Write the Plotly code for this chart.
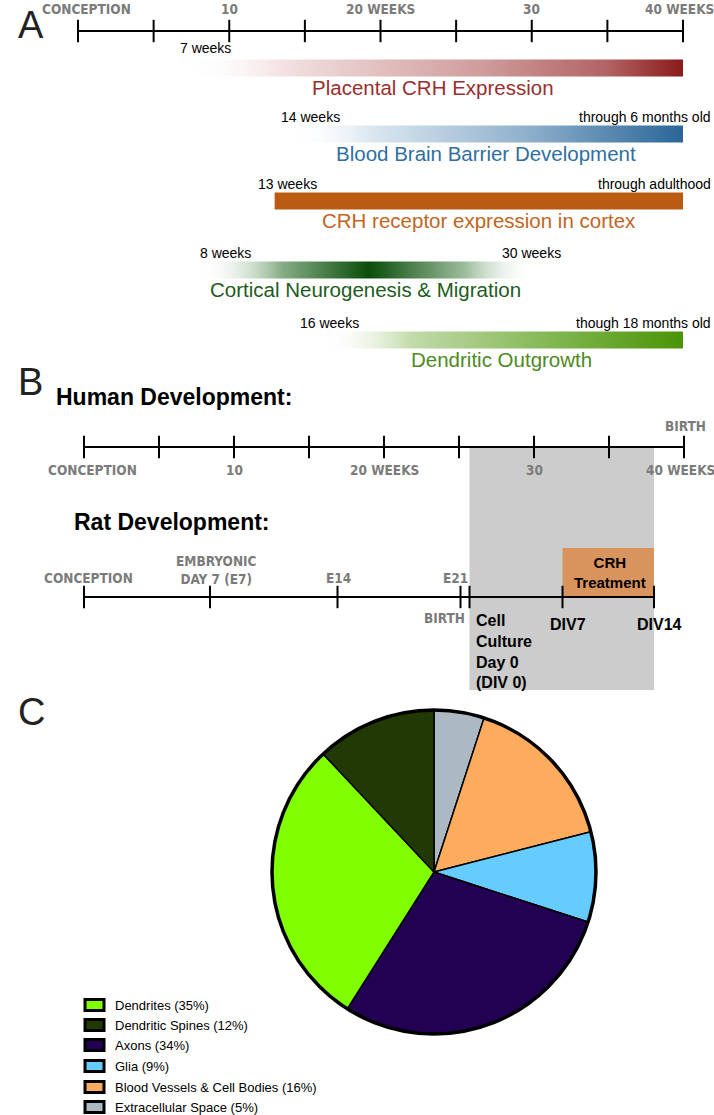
import plotly.graph_objects as go

# ---------------- data ----------------
week_ticks = [0, 5, 10, 15, 20, 25, 30, 35, 40]
week_tick_labels = ["CONCEPTION", "", "10", "", "20 WEEKS", "", "30", "", "40 WEEKS"]

proc_names = ["Placental CRH Expression", "Blood Brain Barrier Development",
              "CRH receptor expression in cortex", "Cortical Neurogenesis & Migration",
              "Dendritic Outgrowth"]
proc_start = [7, 14, 13, 8, 16]
proc_end = [40, 40, 40, 30, 40]
proc_start_labels = ["7 weeks", "14 weeks", "13 weeks", "8 weeks", "16 weeks"]
proc_end_labels = ["", "through 6 months old", "through adulthood", "30 weeks", "though 18 months old"]

# rat milestones placed on the human gestational timeline (weeks)
rat_pos_weeks = [0, 8.4, 16.9, 25.1, 25.7, 31.9, 38.0]
rat_labels_above = ["CONCEPTION", "EMBRYONIC<br>DAY 7 (E7)", "E14", "E21", "", "", ""]
rat_labels_below = ["", "", "", "BIRTH", "Cell<br>Culture<br>Day 0<br>(DIV 0)", "DIV7", "DIV14"]
culture_start_idx = 4
culture_end_idx = 6
treat_start_idx = 5

tissue_labels = ["Dendrites (35%)", "Dendritic Spines (12%)", "Axons (34%)", "Glia (9%)",
                 "Blood Vessels & Cell Bodies (16%)", "Extracellular Space (5%)"]
tissue_values = [29, 12, 29, 9, 16, 5]
tissue_colors = ["#80ff00", "#213a03", "#220052", "#66ccff", "#fdab5d", "#adb9c2"]
pie_order = [5, 4, 3, 2, 0, 1]

# ---------------- styles / layout constants ----------------
W, H = 714, 1115
PX_A0, PX_A_PER_WK = 78, 15.125
PX_B0, PX_B_PER_WK = 84, 15.0
AXIS_A_Y, AXIS_A_LABEL_Y = 31, 9
ROW_Y = [68, 134, 201, 270, 340]
LABEL_OFF = [-20, -17, -17, -17, -17]
BAR_H = 17
HUMAN_AXIS_Y, HUMAN_LABEL_Y, HUMAN_BIRTH_Y = 447, 470, 426
RAT_AXIS_Y = 597
GRAY_BOTTOM = 690
TREAT_TOP = 548
LEGEND_Y = [1005, 1025, 1045, 1066, 1087, 1107]
PIE_CX, PIE_CY, PIE_R = 434, 872, 162

GRAYTXT = "#7b7b7b"
COND = "DejaVu Sans Condensed, Liberation Sans Narrow, Roboto, sans-serif"
COND_SIZE = 13.5
SANS = "Liberation Sans"

bar_scales = [
    [[0, "rgba(255,255,255,0)"], [0.2, "#f3e1e1"], [0.6, "#cf9b9b"], [0.85, "#b26262"], [1, "#8b1a1a"]],
    [[0, "rgba(255,255,255,0)"], [0.2, "#dde8f1"], [0.6, "#8fb1cc"], [1, "#2a6698"]],
    [[0, "#b95c12"], [1, "#b95c12"]],
    [[0, "rgba(255,255,255,0)"], [0.25, "#86ad86"], [0.51, "#0a4d0a"], [0.8, "#9dbd9d"], [1, "rgba(255,255,255,0.1)"]],
    [[0, "rgba(255,255,255,0)"], [0.25, "#c2dbab"], [0.6, "#88ba5a"], [1, "#4a9406"]],
]
title_colors = ["#9a2e2e", "#2f6fa0", "#c2651e", "#1d5c1d", "#4e8a23"]
start_xshift = [-6, -11, -19, -1, -22]


def tick_shift(w):
    return 8 if w == week_ticks[0] else (-4 if w == week_ticks[-1] else 0)


fig = go.Figure()
tick_marker = dict(symbol="line-ns", size=16, line=dict(width=2, color="black"))

# ---- panel A axis ----
fig.add_trace(go.Scatter(x=week_ticks, y=[AXIS_A_Y] * len(week_ticks), mode="lines+markers",
                         line=dict(color="black", width=2), marker=tick_marker,
                         xaxis="x", yaxis="y", hoverinfo="skip"))

ann = []
for w, t in zip(week_ticks, week_tick_labels):
    if t:
        ann.append(dict(x=w, y=AXIS_A_LABEL_Y, xref="x", yref="y", text=t, showarrow=False,
                        xshift=tick_shift(w),
                        font=dict(family=COND, size=COND_SIZE, color=GRAYTXT, weight="bold")))

# ---- panel A bars ----
for i in range(len(proc_names)):
    s, e, yc = proc_start[i], proc_end[i], ROW_Y[i]
    fig.add_trace(go.Scatter(x=[s, e, e, s, s],
                             y=[yc - BAR_H / 2, yc - BAR_H / 2, yc + BAR_H / 2, yc + BAR_H / 2, yc - BAR_H / 2],
                             fill="toself", mode="lines", line=dict(width=0),
                             fillgradient=dict(type="horizontal", colorscale=bar_scales[i]),
                             xaxis="x", yaxis="y", hoverinfo="skip"))
    ann.append(dict(x=s, y=yc + LABEL_OFF[i], xref="x", yref="y", text=proc_start_labels[i], showarrow=False,
                    xanchor="left", xshift=start_xshift[i], font=dict(family=SANS, size=14, color="black")))
    if proc_end_labels[i]:
        if e < 40:
            ann.append(dict(x=e, y=yc + LABEL_OFF[i], xref="x", yref="y", text=proc_end_labels[i],
                            showarrow=False, xanchor="center",
                            font=dict(family=SANS, size=14, color="black")))
        else:
            ann.append(dict(x=0.998, y=yc + LABEL_OFF[i], xref="paper", yref="y", text=proc_end_labels[i],
                            showarrow=False, xanchor="right", font=dict(family=SANS, size=14, color="black")))
    ann.append(dict(x=(s + e) / 2, y=yc + 19, xref="x", yref="y", text=proc_names[i], showarrow=False,
                    font=dict(family=SANS, size=20.5, color=title_colors[i])))

# ---- panel B: shaded culture window ----
shapes = []
shapes.append(dict(type="rect", xref="x2", yref="y", x0=rat_pos_weeks[culture_start_idx],
                   x1=rat_pos_weeks[culture_end_idx], y0=HUMAN_AXIS_Y, y1=GRAY_BOTTOM,
                   fillcolor="#cbcccb", line=dict(width=0), layer="below"))
shapes.append(dict(type="rect", xref="x2", yref="y", x0=rat_pos_weeks[treat_start_idx],
                   x1=rat_pos_weeks[culture_end_idx], y0=TREAT_TOP, y1=RAT_AXIS_Y,
                   fillcolor="#d9935d", line=dict(width=0), layer="below"))

# human axis
fig.add_trace(go.Scatter(x=week_ticks, y=[HUMAN_AXIS_Y] * len(week_ticks), mode="lines+markers",
                         line=dict(color="black", width=2), marker=tick_marker,
                         xaxis="x2", yaxis="y", hoverinfo="skip"))
for w, t in zip(week_ticks, week_tick_labels):
    if t:
        ann.append(dict(x=w, y=HUMAN_LABEL_Y, xref="x2", yref="y", text=t, showarrow=False,
                        xshift=tick_shift(w),
                        font=dict(family=COND, size=COND_SIZE, color=GRAYTXT, weight="bold")))
ann.append(dict(x=week_ticks[-1], y=HUMAN_BIRTH_Y, xref="x2", yref="y", text="BIRTH", showarrow=False,
                xshift=1, font=dict(family=COND, size=COND_SIZE, color=GRAYTXT, weight="bold")))

# rat axis
fig.add_trace(go.Scatter(x=rat_pos_weeks, y=[RAT_AXIS_Y] * len(rat_pos_weeks), mode="lines+markers",
                         line=dict(color="black", width=2), marker=tick_marker,
                         xaxis="x2", yaxis="y", hoverinfo="skip"))
above_shift = [4, 6, 1, -5, 0, 0, 0]
for i, t in enumerate(rat_labels_above):
    if t:
        ann.append(dict(x=rat_pos_weeks[i], y=RAT_AXIS_Y - 19 - (8 if "<br>" in t else 0), xref="x2", yref="y",
                        text=t, showarrow=False, xshift=above_shift[i],
                        font=dict(family=COND, size=COND_SIZE, color=GRAYTXT, weight="bold")))
for i, t in enumerate(rat_labels_below):
    if not t:
        continue
    if t == "BIRTH":
        ann.append(dict(x=rat_pos_weeks[i], y=RAT_AXIS_Y + 21, xref="x2", yref="y", text=t, showarrow=False,
                        xanchor="right", xshift=6,
                        font=dict(family=COND, size=COND_SIZE, color=GRAYTXT, weight="bold")))
    elif "<br>" in t:
        ann.append(dict(x=rat_pos_weeks[i], y=RAT_AXIS_Y + 13, xref="x2", yref="y", text=t, showarrow=False,
                        xanchor="left", yanchor="top", align="left", xshift=4,
                        font=dict(family=SANS, size=16, color="black", weight="bold")))
    else:
        ann.append(dict(x=rat_pos_weeks[i], y=RAT_AXIS_Y + 27, xref="x2", yref="y", text=t, showarrow=False,
                        xshift=5, font=dict(family=SANS, size=16, color="black", weight="bold")))
ann.append(dict(x=(rat_pos_weeks[treat_start_idx] + rat_pos_weeks[culture_end_idx]) / 2,
                y=(TREAT_TOP + RAT_AXIS_Y) / 2, xref="x2", yref="y", text="CRH<br>Treatment",
                showarrow=False, xshift=2, font=dict(family=SANS, size=15, color="black", weight="bold")))

ann.append(dict(x=54 / W, y=397, xref="paper", yref="y", text="Human Development:", showarrow=False,
                xanchor="left", font=dict(family=SANS, size=23, color="black", weight="bold")))
ann.append(dict(x=72 / W, y=522, xref="paper", yref="y", text="Rat Development:", showarrow=False,
                xanchor="left", font=dict(family=SANS, size=23, color="black", weight="bold")))

# panel letters
for letter, yy in [("A", 25), ("B", 382), ("C", 712)]:
    ann.append(dict(x=16 / W, y=yy, xref="paper", yref="y", text=letter, showarrow=False,
                    font=dict(family=SANS, size=38, color="#222222")))

# ---- panel C: pie ----
dom_x = [(PIE_CX - PIE_R) / W, (PIE_CX + PIE_R) / W]
dom_y = [(H - PIE_CY - PIE_R) / H, (H - PIE_CY + PIE_R) / H]
fig.add_trace(go.Pie(labels=[tissue_labels[k] for k in pie_order],
                     values=[tissue_values[k] for k in pie_order],
                     marker=dict(colors=[tissue_colors[k] for k in pie_order],
                                 line=dict(color="black", width=1.5)),
                     sort=False, direction="clockwise", rotation=0, textinfo="none",
                     hoverinfo="label", domain=dict(x=dom_x, y=dom_y), showlegend=False))
shapes.append(dict(type="circle", xref="paper", yref="paper", x0=dom_x[0], x1=dom_x[1],
                   y0=dom_y[0], y1=dom_y[1], line=dict(color="black", width=3.5), layer="above"))

# legend
for lab, col, yy in zip(tissue_labels, tissue_colors, LEGEND_Y):
    shapes.append(dict(type="rect", xref="paper", yref="y", x0=85 / W, x1=104 / W, y0=yy - 5.5, y1=yy + 5.5,
                       fillcolor=col, line=dict(color="black", width=3)))
    ann.append(dict(x=113 / W, y=yy, xref="paper", yref="y", text=lab, showarrow=False, xanchor="left",
                    font=dict(family=SANS, size=13, color="black")))

fig.update_layout(
    width=W, height=H, margin=dict(l=0, r=0, t=0, b=0),
    paper_bgcolor="white", plot_bgcolor="white", showlegend=False,
    xaxis=dict(domain=[0, 1], range=[-PX_A0 / PX_A_PER_WK, (W - PX_A0) / PX_A_PER_WK], visible=False,
               fixedrange=True),
    xaxis2=dict(domain=[0, 1], range=[-PX_B0 / PX_B_PER_WK, (W - PX_B0) / PX_B_PER_WK], visible=False,
                overlaying="x", anchor="y", fixedrange=True),
    yaxis=dict(domain=[0, 1], range=[H, 0], visible=False, fixedrange=True),
    annotations=ann, shapes=shapes,
    font=dict(family=SANS),
)
fig.write_html("out.html", config={"displayModeBar": False},
               post_script="document.body.style.margin='0';document.body.style.overflow='hidden';")
